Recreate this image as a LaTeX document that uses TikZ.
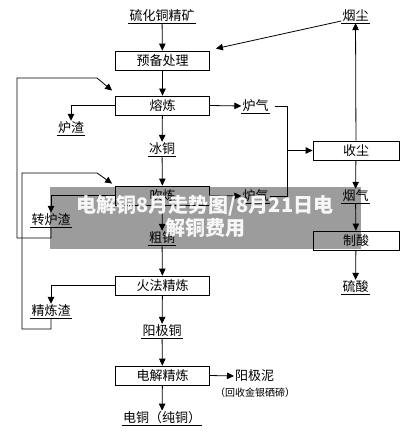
\documentclass[tikz,border=0pt]{standalone}
\usepackage{fontspec}
\setmainfont{Noto Sans CJK SC}
\usetikzlibrary{arrows.meta}
\begin{document}
\begin{tikzpicture}[x=1pt,y=-1pt,
  every node/.style={font=\fontsize{13}{15}\selectfont},
  box/.style={draw, line width=0.8pt, minimum width=94pt, minimum height=19pt, inner sep=0pt},
  rbox/.style={draw, line width=0.8pt, minimum width=86pt, minimum height=19pt, inner sep=0pt},
  lbl/.style={inner sep=1pt},
  ul/.style={inner sep=1pt},
  small/.style={inner sep=1pt, font=\fontsize{10}{12}\selectfont},
  arr/.style={-{Triangle[length=7pt,width=6.5pt]}, line width=0.8pt},
  ln/.style={line width=0.8pt},
  uln/.style={line width=0.9pt, black}]
\useasboundingbox (0,0) rectangle (413,438);
% main column
\node[ul] (src) at (162,16) {硫化铜精矿};
\node[box] (pre) at (162.5,60.5) {预备处理};
\node[box] (smelt) at (162.5,105.5) {熔炼};
\node[ul] (matte) at (162,149) {冰铜};
\node[box] (blow) at (162.5,195.5) {吹炼};
\node[ul] (crude) at (162,238) {粗铜};
\node[box] (fire) at (162.5,285.5) {火法精炼};
\node[ul] (anode) at (162,331) {阳极铜};
\node[box] (elec) at (162.5,375.5) {电解精炼};
\node[ul] (pure) at (162,418) {电铜（纯铜）};
% left labels
\node[ul] (slag1) at (71,128) {炉渣};
\node[ul] (slag2) at (51,220) {转炉渣};
\node[ul] (slag3) at (51,311) {精炼渣};
% right side
\node[ul] (gas1) at (255.5,106) {炉气};
\node[ul] (gas2) at (255.5,196) {炉气};
\node[ul] (dust) at (355.5,16) {烟尘};
\node[rbox] (dc) at (356,150.5) {收尘};
\node[ul] (flue) at (355.5,196) {烟气};
\node[rbox] (acid) at (356,240.5) {制酸};
\node[ul] (sulf) at (355.5,287) {硫酸};
\node[lbl, anchor=west] (mud) at (234,376) {阳极泥};
\node[small] (note) at (255,393) {（回收金银硒碲）};
\coordinate (jx) at (287,0);
% underlines
\foreach \n in {src,matte,crude,anode,pure,slag1,slag2,slag3,gas1,gas2,dust,flue,sulf}
  \draw[uln] (\n.south west) -- (\n.south east);
% main arrows
\draw[arr] (src) -- (pre);
\draw[arr] (pre) -- (smelt);
\draw[arr] (smelt) -- (matte);
\draw[arr] (matte) -- (blow);
\draw[arr] (blow) -- (crude);
\draw[arr] (crude) -- (fire);
\draw[arr] (fire) -- (anode);
\draw[arr] (anode) -- (elec);
\draw[arr] (elec) -- (pure);
% slag
\draw[arr] (smelt.west) -| (slag1.north);
\draw[arr] (blow.west) -| (slag2.north);
\draw[arr] (fire.west) -| (slag3.north);
% recycle loops
\draw[arr] (slag2.south) -- (slag2.south |- 0,238) -- (17,238) -- (17,78) -- (97,78) -- ([shift={(-3,-5)}]smelt.north west);
\draw[arr] (slag3.south) -- (slag3.south |- 0,329) -- (22,329) -- (22,173) -- (97,173) -- ([shift={(-3,-2)}]blow.north west);
% gases
\draw[arr] (smelt.east) -- (gas1.west);
\draw[arr] (blow.east) -- (gas2.west);
\draw[arr] ([xshift=5pt]gas1.east) -| (jx |- dc.west) -- (dc.west);
\draw[ln] (gas2.east) -| (jx |- dc.west);
\draw[arr] (dc) -- (dust);
\draw[arr] ([yshift=-5pt]dust.west) -- ([shift={(6,-2)}]pre.north east);
\draw[arr] (dc) -- (flue);
\draw[arr] (flue) -- (acid);
\draw[arr] (acid) -- (sulf);
\draw[arr] (elec.east) -- (mud.west);
% banner overlay
\fill[black, fill opacity=0.39] (50,187) rectangle (361,249);
\node[text=white, text opacity=0.93, align=center, font=\fontsize{20}{23}\selectfont\bfseries] (banner) at (205,216.5) {电解铜8月走势图/8月21日电\\解铜费用};
\end{tikzpicture}
\end{document}
